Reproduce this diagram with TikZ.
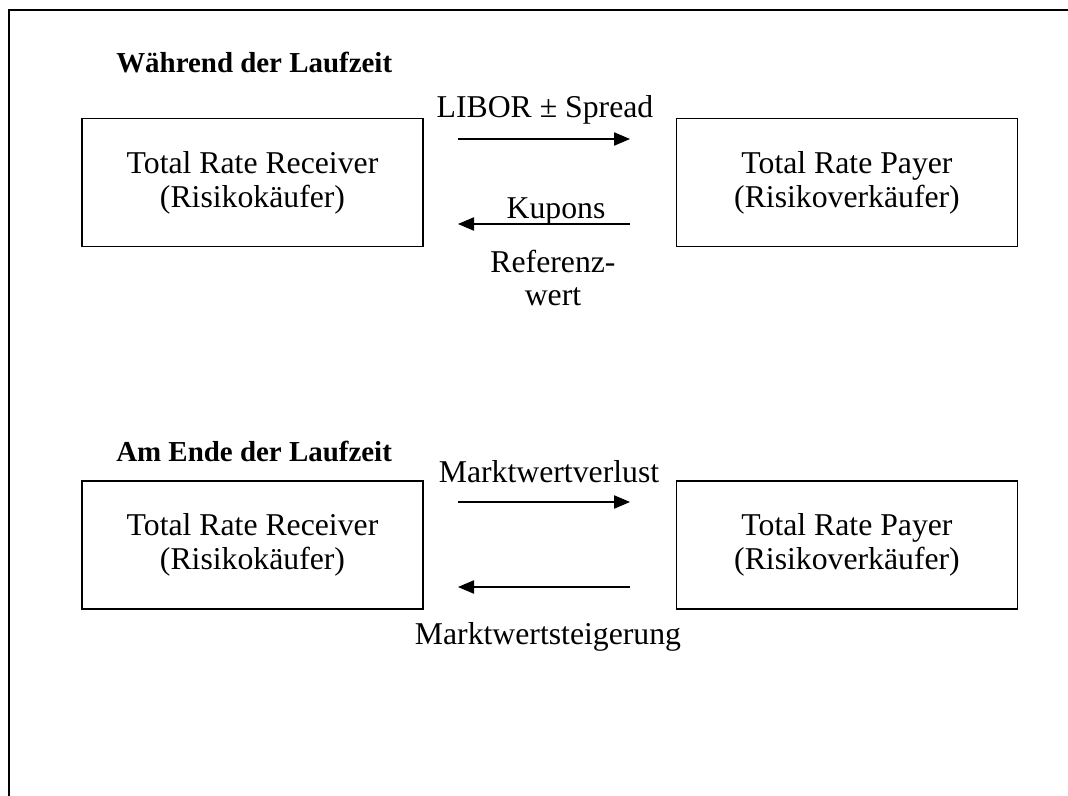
\documentclass[tikz,border=0pt]{standalone}
\usepackage{fontspec}
\setmainfont{Liberation Serif}
\usetikzlibrary{arrows.meta}
\begin{document}
\begin{tikzpicture}[x=0.75pt,y=-0.75pt,
  font=\fontsize{23.8}{25.5}\selectfont,
  box/.style={draw, line width=0.8pt, minimum width=255.75pt, minimum height=96pt, align=center, inner sep=0pt},
  lbl/.style={anchor=base, inner sep=0pt},
  title/.style={anchor=base west, inner sep=0pt, font=\fontsize{21.7}{25.5}\selectfont\bfseries},
  flow/.style={line width=0.8pt, -{Triangle[length=12pt,width=10pt]}}]
\useasboundingbox (0,0) rectangle (1068,796);
% frame (top and left edges)
\draw[line width=1.5pt] (1068,10) -- (9,10) -- (9,796);
% upper part
\node[title] (t1) at (116,72) {Während der Laufzeit};
\node[box] (rec1) at (252.5,182.5) {Total Rate Receiver\\(Risikokäufer)};
\node[box] (pay1) at (847,182.5) {Total Rate Payer\\(Risikoverkäufer)};
\coordinate (a1s) at (458,139);
\coordinate (a1e) at (630,139);
\coordinate (a2s) at (630,224);
\coordinate (a2e) at (458,224);
\draw[flow] (a1s) -- (a1e);
\draw[flow] (a2s) -- (a2e);
\node[lbl] (libor) at (545,117) {LIBOR ± Spread};
\node[lbl] (kup) at (556,218) {Kupons};
\node[inner sep=0pt, align=center, font=\fontsize{23.8}{25}\selectfont] (ref) at (553,278) {Referenz-\\wert};
% lower part
\node[title] (t2) at (116,461) {Am Ende der Laufzeit};
\node[box] (rec2) at (252.5,545) {Total Rate Receiver\\(Risikokäufer)};
\node[box] (pay2) at (847,545) {Total Rate Payer\\(Risikoverkäufer)};
\coordinate (b1s) at (458,502);
\coordinate (b1e) at (630,502);
\coordinate (b2s) at (630,587);
\coordinate (b2e) at (458,587);
\draw[flow] (b1s) -- (b1e);
\draw[flow] (b2s) -- (b2e);
\node[lbl] (mv) at (549,482) {Marktwertverlust};
\node[lbl] (ms) at (548,644) {Marktwertsteigerung};
\end{tikzpicture}
\end{document}
